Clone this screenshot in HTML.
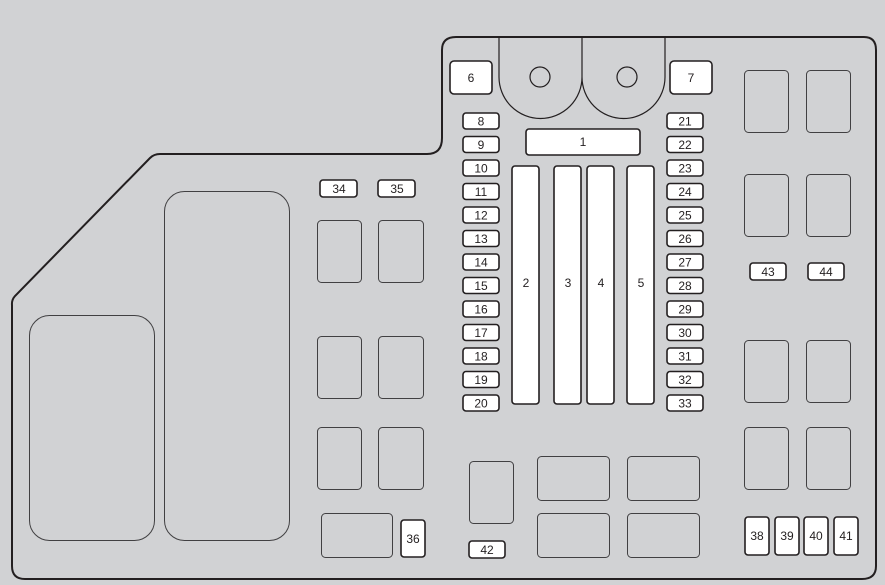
<!DOCTYPE html>
<html><head><style>html,body{margin:0;padding:0;background:#d1d2d4}svg{display:block}</style></head><body>
<svg width="885" height="585" viewBox="0 0 885 585" xmlns="http://www.w3.org/2000/svg" font-family="Liberation Sans, sans-serif" font-size="12" fill="#231f20">
<rect width="885" height="585" fill="#d1d2d4"/>
<path d="M12,305 Q11.5,300 15,296 L150,158 Q154,154 160,154 L427,154 Q442,154 442,138 L442,50 Q442,37 456,37 L864,37 Q876,37 876,50 L876,566 Q876,579 862,579 L25,579 Q12,579 12,566 Z" fill="none" stroke="#231f20" stroke-width="2"/>
<g fill="none" stroke="#231f20" stroke-width="1.2">
<path d="M499,37 L499,77 A41.5,41.5 0 0 0 582,77 L582,37 M582,77 A41.5,41.5 0 0 0 665,77 L665,37"/>
<circle cx="540" cy="77" r="10"/><circle cx="627" cy="77" r="10"/>
</g>
<g fill="none" stroke="#414042" stroke-width="1">
<rect x="29.5" y="315.5" width="125" height="225" rx="20"/>
<rect x="164.5" y="191.5" width="125" height="349" rx="20"/>
<rect x="317.5" y="220.5" width="44" height="62" rx="4"/><rect x="378.5" y="220.5" width="45" height="62" rx="4"/>
<rect x="317.5" y="336.5" width="44" height="62" rx="4"/><rect x="378.5" y="336.5" width="45" height="62" rx="4"/>
<rect x="317.5" y="427.5" width="44" height="62" rx="4"/><rect x="378.5" y="427.5" width="45" height="62" rx="4"/>
<rect x="321.5" y="513.5" width="71" height="44" rx="4"/>
<rect x="469.5" y="461.5" width="44" height="62" rx="4"/>
<rect x="537.5" y="456.5" width="72" height="44" rx="4"/><rect x="627.5" y="456.5" width="72" height="44" rx="4"/>
<rect x="537.5" y="513.5" width="72" height="44" rx="4"/><rect x="627.5" y="513.5" width="72" height="44" rx="4"/>
<rect x="744.5" y="70.5" width="44" height="62" rx="4"/><rect x="806.5" y="70.5" width="44" height="62" rx="4"/>
<rect x="744.5" y="174.5" width="44" height="62" rx="4"/><rect x="806.5" y="174.5" width="44" height="62" rx="4"/>
<rect x="744.5" y="340.5" width="44" height="62" rx="4"/><rect x="806.5" y="340.5" width="44" height="62" rx="4"/>
<rect x="744.5" y="427.5" width="44" height="62" rx="4"/><rect x="806.5" y="427.5" width="44" height="62" rx="4"/>
</g>
<g fill="#fff" stroke="#231f20" stroke-width="1.6">
<rect x="450" y="61" width="42" height="33" rx="4"/><rect x="670" y="61" width="42" height="33" rx="4"/>
<rect x="526" y="129" width="114" height="26" rx="3"/>
<rect x="512" y="166" width="27" height="238" rx="3"/><rect x="554" y="166" width="27" height="238" rx="3"/>
<rect x="587" y="166" width="27" height="238" rx="3"/><rect x="627" y="166" width="27" height="238" rx="3"/>
<rect x="320" y="180" width="37" height="17" rx="3"/><rect x="378" y="180" width="37" height="17" rx="3"/>
<rect x="401" y="520" width="24" height="37" rx="3"/>
<rect x="469" y="541" width="36" height="17" rx="3"/>
<rect x="750" y="263" width="36" height="17" rx="3"/><rect x="808" y="263" width="36" height="17" rx="3"/>
<rect x="745" y="517" width="24" height="38" rx="3"/><rect x="775" y="517" width="24" height="38" rx="3"/>
<rect x="804" y="517" width="24" height="38" rx="3"/><rect x="834" y="517" width="24" height="38" rx="3"/>
<g id="lf">
<rect x="463" y="113" width="36" height="16" rx="3"/><rect x="463" y="136.5" width="36" height="16" rx="3"/><rect x="463" y="160" width="36" height="16" rx="3"/><rect x="463" y="183.5" width="36" height="16" rx="3"/><rect x="463" y="207" width="36" height="16" rx="3"/><rect x="463" y="230.5" width="36" height="16" rx="3"/><rect x="463" y="254" width="36" height="16" rx="3"/><rect x="463" y="277.5" width="36" height="16" rx="3"/><rect x="463" y="301" width="36" height="16" rx="3"/><rect x="463" y="324.5" width="36" height="16" rx="3"/><rect x="463" y="348" width="36" height="16" rx="3"/><rect x="463" y="371.5" width="36" height="16" rx="3"/><rect x="463" y="395" width="36" height="16" rx="3"/>
</g>
<use href="#lf" x="204"/>
</g>
<g text-anchor="middle">
<text x="471" y="82">6</text><text x="691" y="82">7</text><text x="583" y="146">1</text>
<text x="526" y="287">2</text><text x="568" y="287">3</text><text x="601" y="287">4</text><text x="641" y="287">5</text>
<text x="339" y="193">34</text><text x="397" y="193">35</text><text x="413" y="543">36</text><text x="487" y="554">42</text>
<text x="768" y="276">43</text><text x="826" y="276">44</text>
<text x="757" y="540">38</text><text x="787" y="540">39</text><text x="816" y="540">40</text><text x="846" y="540">41</text>
<text x="481" y="125.5">8</text><text x="481" y="149">9</text><text x="481" y="172.5">10</text><text x="481" y="196">11</text><text x="481" y="219.5">12</text><text x="481" y="243">13</text><text x="481" y="266.5">14</text><text x="481" y="290">15</text><text x="481" y="313.5">16</text><text x="481" y="337">17</text><text x="481" y="360.5">18</text><text x="481" y="384">19</text><text x="481" y="407.5">20</text>
<text x="685" y="125.5">21</text><text x="685" y="149">22</text><text x="685" y="172.5">23</text><text x="685" y="196">24</text><text x="685" y="219.5">25</text><text x="685" y="243">26</text><text x="685" y="266.5">27</text><text x="685" y="290">28</text><text x="685" y="313.5">29</text><text x="685" y="337">30</text><text x="685" y="360.5">31</text><text x="685" y="384">32</text><text x="685" y="407.5">33</text>
</g>
</svg>
</body></html>
